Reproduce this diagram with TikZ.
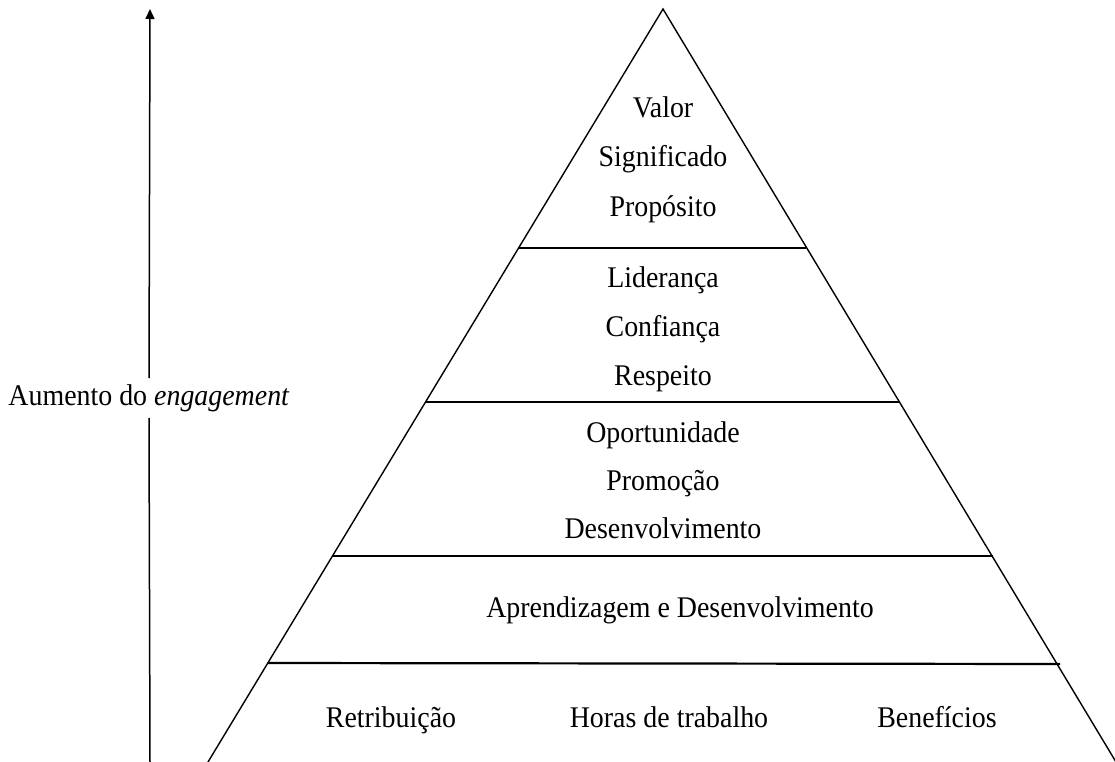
\documentclass[tikz,border=0pt]{standalone}
\usepackage{fontspec}
\setmainfont{Liberation Serif}[FakeStretch=0.93]
\usetikzlibrary{arrows.meta}
\begin{document}
\begin{tikzpicture}[x=1pt,y=-1pt,
  edge/.style={line width=1.4pt,line cap=round},
  bar/.style={line width=2.2pt},
  lbl/.style={font=\fontsize{30}{36}\selectfont,anchor=base,inner sep=0pt},
  axis/.style={line width=1.5pt}]
\useasboundingbox (0,0) rectangle (1115,762);
\clip (0,0) rectangle (1115,762);
% pyramid outline
\coordinate (apex) at (663,9);
\coordinate (bl) at (208,762);
\coordinate (br) at (1116,762);
\draw[edge] (bl) -- (apex) -- (br);
% layer separators
\coordinate (s1l) at (519,248); \coordinate (s1r) at (806,248);
\coordinate (s2l) at (426,402); \coordinate (s2r) at (900,402);
\coordinate (s3l) at (333,556); \coordinate (s3r) at (993,556);
\coordinate (s4l) at (268,663); \coordinate (s4r) at (1060,664);
\draw[bar] (s1l) -- (s1r);
\draw[bar] (s2l) -- (s2r);
\draw[bar] (s3l) -- (s3r);
\draw[bar] (s4l) -- (s4r);
% top layer
\node[lbl] (valor) at (663,118) {Valor};
\node[lbl] (signif) at (663,167) {Significado};
\node[lbl] (prop) at (663,216) {Propósito};
% second layer
\node[lbl] (lider) at (663,287) {Liderança};
\node[lbl] (conf) at (663,336) {Confiança};
\node[lbl] (resp) at (663,385) {Respeito};
% third layer
\node[lbl] (oport) at (663,442) {Oportunidade};
\node[lbl] (promo) at (663,490) {Promoção};
\node[lbl] (desenv) at (663,538) {Desenvolvimento};
% fourth layer
\node[lbl] (aprend) at (680,617) {Aprendizagem e Desenvolvimento};
% base layer
\node[lbl] (retrib) at (391,727) {Retribuição};
\node[lbl] (horas) at (669,727) {Horas de trabalho};
\node[lbl] (benef) at (937,727) {Benefícios};
% engagement axis
\coordinate (axbot) at (150,762);
\coordinate (axtop) at (150,9);
\node[font=\fontsize{30}{36}\selectfont,inner xsep=0pt,inner ysep=6pt] (axlbl) at (149,398) {Aumento do \textit{engagement}};
\draw[axis] (axbot) -- (axlbl.south);
\draw[axis,-{Triangle[length=10pt,width=9pt]}] (axlbl.north) -- (axtop);
\end{tikzpicture}
\end{document}
